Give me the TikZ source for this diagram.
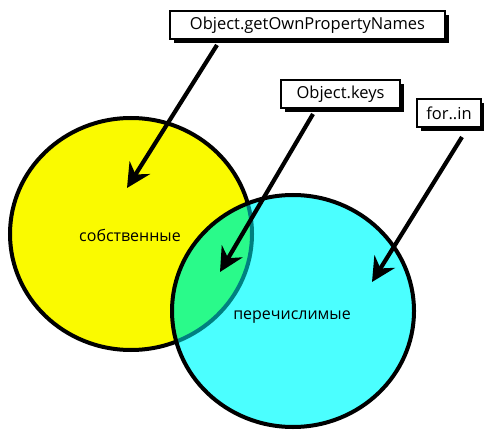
\documentclass[tikz,border=0pt]{standalone}
\usepackage{fontspec}
\setmainfont{Open Sans}
\usetikzlibrary{arrows.meta,shadows}
\definecolor{setyellow}{RGB}{250,250,0}
\definecolor{setcyan}{RGB}{75,255,255}
\definecolor{setgreen}{RGB}{42,250,138}
\definecolor{setteal}{RGB}{0,128,128}
\tikzset{
  setline/.style={line width=4pt},
  label box/.style={draw=black, line width=2pt, fill=white, inner sep=0pt,
    minimum height=28pt, font=\fontsize{16.5}{18}\selectfont,
    drop shadow={shadow xshift=4pt, shadow yshift=-4pt, fill=black, opacity=1}},
  pointer/.style={line width=4.2pt, -{Stealth[length=24pt,width=24pt,inset=8pt]}},
  set label/.style={font=\fontsize{16}{18}\selectfont}
}
\begin{document}
\begin{tikzpicture}[x=1pt,y=-1pt]
\useasboundingbox (0,0) rectangle (484,430);
% the two sets
\coordinate (own) at (131,234);
\coordinate (enum) at (293,311);
\fill[setyellow] (own) ellipse [x radius=121, y radius=116];
\fill[setcyan] (enum) ellipse [x radius=121, y radius=116];
\begin{scope}
  \clip (own) ellipse [x radius=121, y radius=116];
  \fill[setgreen] (enum) ellipse [x radius=121, y radius=116];
\end{scope}
% outline of the first set, dimmed where the second set covers it
\begin{scope}
  \clip (enum) ellipse [x radius=121, y radius=116];
  \draw[setline, setteal] (own) ellipse [x radius=121, y radius=116];
\end{scope}
\begin{scope}[even odd rule]
  \clip (-10,-10) rectangle (500,440) (enum) ellipse [x radius=121, y radius=116];
  \draw[setline] (own) ellipse [x radius=121, y radius=116];
\end{scope}
\draw[setline] (enum) ellipse [x radius=121, y radius=116];
\node[set label] (ownlbl) at (130,235) {собственные};
\node[set label] (enumlbl) at (292,317) {перечислимые};
% method labels
\node[label box, minimum width=275pt] (b1) at (307.5,25) {Object.getOwnPropertyNames};
\node[label box, minimum width=119pt] (b2) at (340.5,94) {Object.keys};
\node[label box, minimum width=64pt] (b3) at (449,113) {for..in};
% pointers
\coordinate (t1) at (127,188);
\coordinate (t2) at (220,272);
\coordinate (t3) at (372,282);
\draw[pointer] ([xshift=-90.5pt,yshift=-5pt]b1.south) -- (t1);
\draw[pointer] ([xshift=-27.5pt,yshift=-5pt]b2.south) -- (t2);
\draw[pointer] ([xshift=13pt,yshift=-9pt]b3.south) -- (t3);
\end{tikzpicture}
\end{document}
